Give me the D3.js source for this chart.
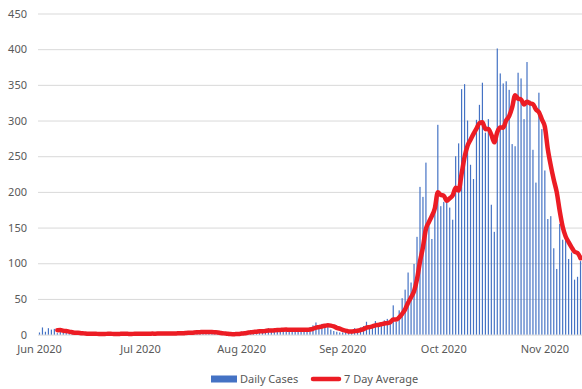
<!DOCTYPE html>
<html>
<head>
<meta charset="utf-8">
<script src="https://cdn.jsdelivr.net/npm/d3@7"></script>
<style>
  html, body { margin: 0; padding: 0; background: #fff; }
  svg { display: block; }
  text { font-family: "Noto Sans", "Liberation Sans", sans-serif; fill: #595959; }
</style>
</head>
<body>
<svg id="chart" width="582" height="389"></svg>
<script>
// ---- data ----
const dailyCases = [
  3, 10, 4, 9, 7, 8,
  2, 4, 3, 3, 2, 1, 2,
  2, 1, 1, 0, 1, 2, 1, 0, 1, 1, 2, 1, 0, 1, 1, 2, 1, 1, 0, 2, 1, 1, 2, 1, 1, 2, 1, 2, 2, 1, 2, 2,
  2, 1, 3, 2, 3, 4, 3, 4, 3, 5, 4, 3, 4, 2,
  2,
  1, 0, 0, 0, 1, 0, 3, 2, 4, 3, 5, 6, 3, 5, 6, 4, 7, 9, 5, 6, 8, 7, 6, 8, 7, 6, 6, 7, 8, 5, 8,
  10, 13, 17, 12, 15, 11, 13,
  7, 5, 4, 3, 3, 4, 5, 6, 9, 8, 10,
  12, 18, 10, 14, 19, 12, 16, 20, 22, 18,
  41, 18, 34, 51, 63, 87, 73, 99, 137, 207, 193, 241, 153, 134, 175, 294,
  180, 186, 191, 178, 161, 250, 268, 344, 351, 300, 238, 218, 301, 322, 353, 283,
  302, 182, 144, 401, 366, 352, 355, 343, 267, 264, 367, 359, 302, 382, 328, 259,
  213, 339, 288, 230, 162, 166, 121, 92, 155, 133, 134, 106, 115, 77, 81, 103
];
const windowDays = 7;
const tickLabels = ["Jun 2020", "Jul 2020", "Aug 2020", "Sep 2020", "Oct 2020", "Nov 2020"];
const tickCategory = [0, 34, 68, 102, 136, 170];
const yTickValues = [0, 50, 100, 150, 200, 250, 300, 350, 400, 450];
const seriesNames = ["Daily Cases", "7 Day Average"];

// 7-day trailing average of the daily series (as in the source chart)
const avgSeries = dailyCases.map((v, i) =>
  i < windowDays - 1 ? null : d3.mean(dailyCases.slice(i - windowDays + 1, i + 1)));

// ---- drawing ----
const svg = d3.select("#chart");
const plot = { left: 38, right: 582, top: 13.5, bottom: 334.6 };
const barColor = "#4472C4";
const lineColor = "#EC1C24";

const x = d3.scaleBand()
  .domain(d3.range(dailyCases.length))
  .range([plot.left, plot.right])
  .paddingInner(0.6)
  .paddingOuter(0.3);
const y = d3.scaleLinear().domain([0, 450]).range([plot.bottom, plot.top]);
const cx = i => x(i) + x.bandwidth() / 2;

// gridlines
const yAxis = d3.axisLeft(y).tickValues(yTickValues).tickSize(-(plot.right - plot.left)).tickPadding(11);
const gy = svg.append("g").attr("transform", `translate(${plot.left},0)`).call(yAxis);
gy.select(".domain").remove();
gy.selectAll(".tick line").attr("stroke", "#D9D9D9").attr("stroke-width", 1);
gy.selectAll(".tick text").attr("font-size", "11px").attr("fill", "#595959");

// bars
svg.append("g").selectAll("rect")
  .data(dailyCases)
  .join("rect")
  .attr("x", (d, i) => x(i))
  .attr("width", x.bandwidth())
  .attr("y", d => y(d))
  .attr("height", d => y(0) - y(d))
  .attr("fill", barColor);

// x labels
const xAxis = d3.axisBottom(x)
  .tickValues(tickCategory)
  .tickFormat((d, k) => tickLabels[k])
  .tickSize(0)
  .tickPadding(11);
const gx = svg.append("g").attr("transform", `translate(0,${plot.bottom})`).call(xAxis);
gx.select(".domain").remove();
gx.selectAll(".tick text").attr("font-size", "11px").attr("fill", "#595959");

// average line
const line = d3.line()
  .defined(d => d != null)
  .x((d, i) => cx(i))
  .y(d => y(d))
  .curve(d3.curveMonotoneX);
svg.append("path")
  .datum(avgSeries)
  .attr("d", line)
  .attr("fill", "none")
  .attr("stroke", lineColor)
  .attr("stroke-width", 4.5)
  .attr("stroke-linejoin", "round")
  .attr("stroke-linecap", "round");

// legend
const lg = svg.append("g").attr("transform", "translate(0,379)");
lg.append("rect").attr("x", 211).attr("y", -3.5).attr("width", 26).attr("height", 7).attr("fill", barColor);
lg.append("text").attr("x", 240).attr("y", 0).attr("dy", "0.35em").attr("font-size", "11px").text(seriesNames[0]);
lg.append("line").attr("x1", 313).attr("x2", 339).attr("y1", 0).attr("y2", 0)
  .attr("stroke", lineColor).attr("stroke-width", 4.5).attr("stroke-linecap", "round");
lg.append("text").attr("x", 344).attr("y", 0).attr("dy", "0.35em").attr("font-size", "11px").text(seriesNames[1]);
</script>
</body>
</html>
